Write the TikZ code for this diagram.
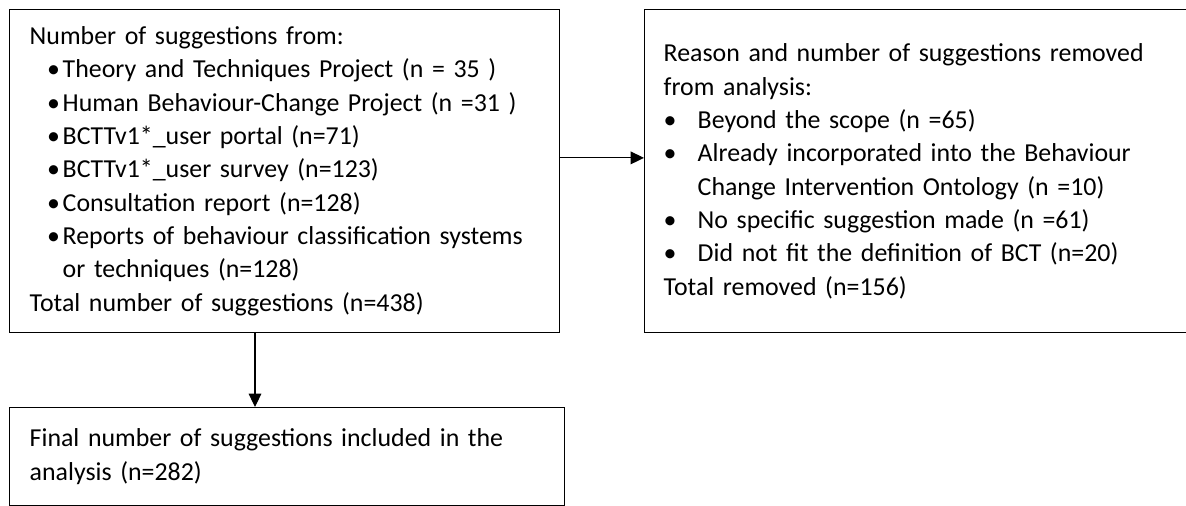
\documentclass[tikz,border=0pt]{standalone}
\usepackage{fontspec}
\setmainfont{Carlito}
\usetikzlibrary{arrows.meta}
\setlength{\parindent}{0pt}

% item berpoin: jarak poin, jarak teks, isi
\newcommand{\bitem}[3]{\par\hangindent=#2\hangafter=1\hspace*{#1}\makebox[\dimexpr#2-#1\relax][l]{\textbullet}#3}

\tikzset{
  flowbox/.style={draw, line width=1.1pt, align=left, anchor=north west,
    inner ysep=0pt, font=\fontsize{19.4pt}{25pt}\selectfont},
}

\begin{document}
\begin{tikzpicture}[x=0.75pt, y=0.75pt, >={Triangle[length=10pt,width=9.5pt]}]
    \useasboundingbox (0,0) rectangle (1186,506);

    % Kotak sumber saran
    \node[flowbox, inner xsep=15pt, text width=382.5pt, minimum height=242.25pt] (sources) at (9,497) {%
      Number of suggestions from:
      \bitem{13pt}{24.75pt}{Theory and Techniques Project (n = 35 )}
      \bitem{13pt}{24.75pt}{Human Behaviour-Change Project (n =31 )}
      \bitem{13pt}{24.75pt}{BCTTv1*\_user portal (n=71)}
      \bitem{13pt}{24.75pt}{BCTTv1*\_user survey (n=123)}
      \bitem{13pt}{24.75pt}{Consultation report (n=128)}
      \bitem{13pt}{24.75pt}{Reports of behaviour classification systems\newline or techniques (n=128)}
      \par Total number of suggestions (n=438)};

    % Kotak saran yang dihapus
    \node[flowbox, inner xsep=14.25pt, text width=390pt, minimum height=242.25pt] (removed) at (644,497) {%
      Reason and number of suggestions removed\newline from analysis:
      \bitem{0pt}{25.5pt}{Beyond the scope (n =65)}
      \bitem{0pt}{25.5pt}{Already incorporated into the Behaviour\newline Change Intervention Ontology (n =10)}
      \bitem{0pt}{25.5pt}{No specific suggestion made (n =61)}
      \bitem{0pt}{25.5pt}{Did not fit the definition of BCT (n=20)}
      \par Total removed (n=156)};

    % Kotak hasil akhir
    \node[flowbox, inner xsep=15pt, text width=386.25pt, minimum height=73.5pt] (final) at (9,99) {%
      Final number of suggestions included in the\newline analysis (n=282)};

    % Panah
    \draw[->, line width=0.8pt] ([yshift=10pt]sources.east) -- ([yshift=10pt]removed.west);
    \draw[->, line width=0.8pt] ([xshift=184.5pt]sources.south west) -- ([xshift=184.5pt]final.north west);
\end{tikzpicture}
\end{document}
